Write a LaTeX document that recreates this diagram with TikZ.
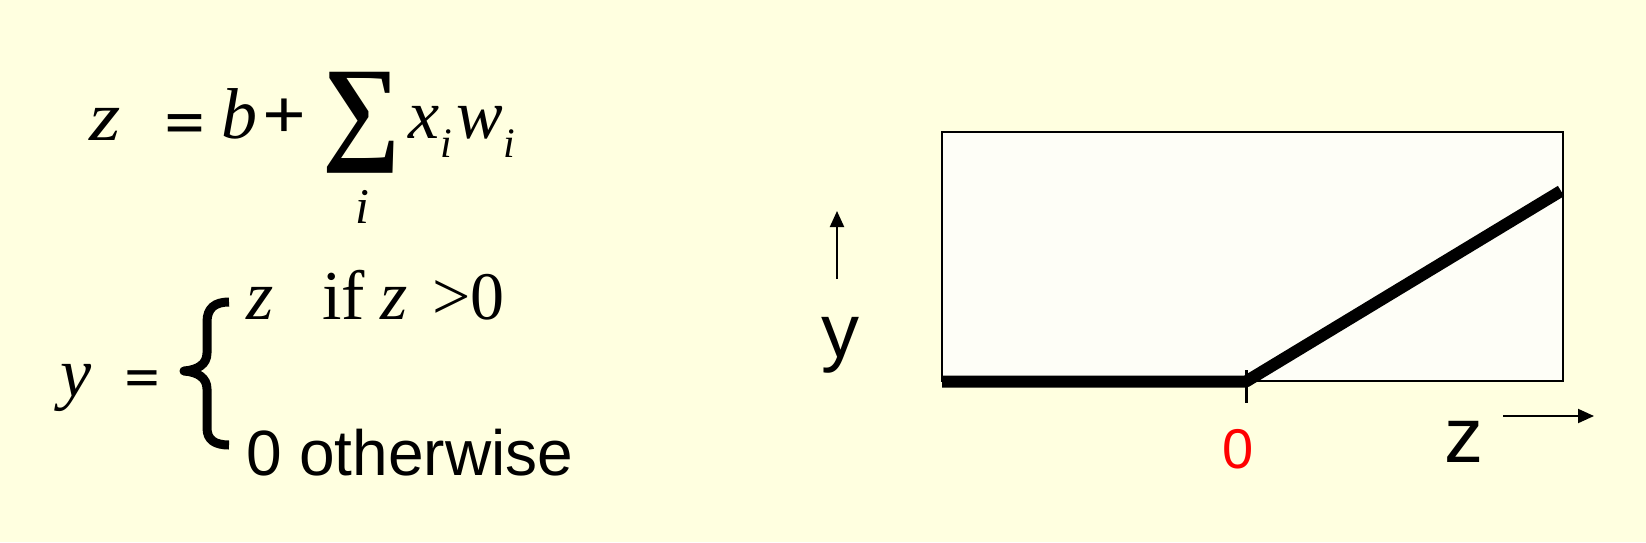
\documentclass[tikz,border=0pt]{standalone}
\usepackage{fontspec}
\usepackage{graphicx}
\usetikzlibrary{arrows.meta}
\newfontfamily\tmsf{Liberation Serif}
\newfontfamily\arf{Liberation Sans}
\definecolor{bgyellow}{HTML}{FFFFE0}
\definecolor{boxfill}{HTML}{FEFEF7}
\tikzset{
  txt/.style={inner sep=0pt, outer sep=0pt, anchor=base west},
  tm/.style={txt, font=\tmsf\fontsize{#1}{#1}\selectfont},
  ar/.style={txt, font=\arf\fontsize{#1}{#1}\selectfont},
  axisarrow/.style={line width=2pt, -{Triangle[length=16pt,width=14pt]}},
}
\begin{document}
\begin{tikzpicture}[x=1pt,y=-1pt]
\useasboundingbox (0,0) rectangle (1646,542);
\fill[bgyellow] (0,0) rectangle (1646,542);

% equation 1
\node[tm=70] (z1) at (89,140) {\scalebox{1.15}[1]{\itshape z}};
\node[ar=46] (eq1) at (165,138) {\scalebox{1.45}[1]{\bfseries =}};
\node[tm=72] (b1) at (221,138) {\itshape b};
\node[tm=70] (pl1) at (262,138) {\scalebox{1.1}[1]{\bfseries +}};
\node[inner sep=0pt, anchor=north west] (sum) at (322,72) {\resizebox*{78pt}{101pt}{\tmsf\bfseries ∑}};
\node[tm=50, anchor=base] (isum) at (362,223) {\itshape i};
\node[tm=70] (x1) at (408,138) {\itshape x};
\node[tm=42] (i1) at (440,157) {\itshape i};
\node[tm=70] (w1) at (456,138) {\itshape w};
\node[tm=42] (i2) at (503,157) {\itshape i};

% equation 2
\node[tm=70] (y2) at (60,396) {\itshape y};
\node[ar=40] (eq2) at (125,391) {\scalebox{1.45}[1]{\bfseries =}};
\draw[line width=9pt, line cap=butt, line join=round] (229,302) .. controls (215,302) and (207,308) .. (207,322) -- (207,353) .. controls (207,364) and (198,370) .. (184,371) .. controls (198,372) and (207,378) .. (207,389) -- (207,428) .. controls (207,440) and (215,445) .. (229,445);
\node[tm=70] (z2) at (246,319) {\itshape z};
\node[tm=70] (if2) at (322,319) {if};
\node[tm=70] (z3) at (380,319) {\itshape z};
\node[tm=68] (gt2) at (432,319) {>0};
\node[ar=64] (oth) at (246,475) {0 otherwise};

% graph
\draw[line width=2pt, fill=boxfill] (942,132) rectangle (1563,381);
\coordinate (p0) at (942,381.5);
\coordinate (p1) at (1246,381.5);
\coordinate (p2) at (1561,191);
\draw[line width=12pt, line join=bevel] (p0) -- (p1) -- (p2);
\coordinate (t0) at (1246,370);
\coordinate (t1) at (1246,403);
\draw[line width=3pt] (t0) -- (t1);
\node[ar=56, anchor=base, text=red] (zero) at (1238,468) {0};
\node[ar=76] (ylab) at (821,357) {y};
\node[ar=78] (zlab) at (1444,462) {z};
\coordinate (ya0) at (837,279);
\coordinate (ya1) at (837,211);
\draw[axisarrow] (ya0) -- (ya1);
\coordinate (za0) at (1503,416);
\coordinate (za1) at (1594,416);
\draw[axisarrow] (za0) -- (za1);
\end{tikzpicture}
\end{document}
